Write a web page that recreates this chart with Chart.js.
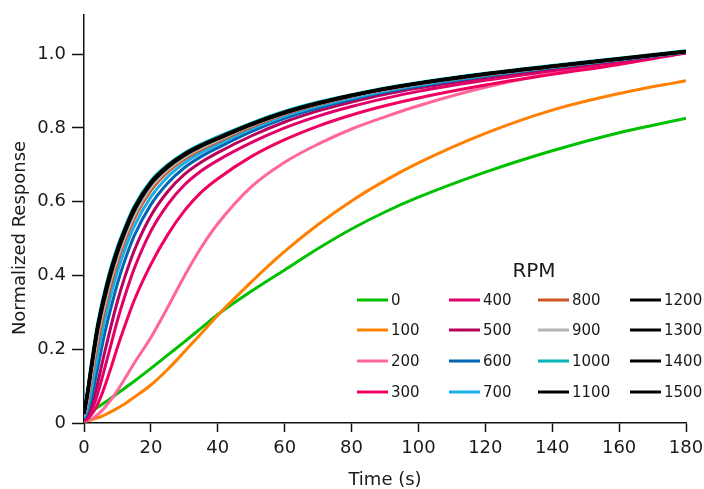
<!DOCTYPE html>
<html>
<head>
<meta charset="utf-8">
<script src="https://cdn.jsdelivr.net/npm/chart.js@4.4.1/dist/chart.umd.min.js"></script>
<style>
html,body{margin:0;padding:0;background:#fff;}
#wrap{position:relative;width:704px;height:489px;}
</style>
</head>
<body>
<div id="wrap"><canvas id="c" width="704" height="489"></canvas></div>
<script>
// Time points (s)
const times = [0,1,2,3,4,5,6,8,10,12,15,20,25,30,35,40,50,60,70,80,90,100,120,140,160,180];
// RPM categories
const rpmLabels = ['0','100','200','300','400','500','600','700','800','900','1000','1100','1200','1300','1400','1500'];
// Normalized response per RPM
const r0    = [0.02,0.024,0.03,0.036,0.042,0.048,0.054,0.067,0.08,0.093,0.113,0.148,0.184,0.22,0.257,0.294,0.357,0.415,0.473,0.526,0.572,0.612,0.68,0.738,0.787,0.826];
const r100  = [0.005,0.006,0.008,0.011,0.014,0.017,0.021,0.03,0.04,0.051,0.07,0.103,0.145,0.193,0.242,0.292,0.382,0.465,0.538,0.602,0.657,0.705,0.785,0.848,0.893,0.928];
const r200  = [0.005,0.007,0.01,0.015,0.022,0.03,0.04,0.062,0.088,0.117,0.162,0.232,0.313,0.398,0.475,0.54,0.64,0.707,0.756,0.797,0.83,0.86,0.91,0.948,0.978,1.003];
const r300  = [0.006,0.011,0.02,0.033,0.05,0.07,0.094,0.148,0.205,0.258,0.332,0.43,0.51,0.575,0.625,0.662,0.722,0.768,0.805,0.835,0.86,0.881,0.916,0.945,0.972,1.003];
const r400  = [0.008,0.016,0.03,0.05,0.077,0.108,0.142,0.21,0.278,0.338,0.418,0.52,0.592,0.645,0.683,0.712,0.76,0.8,0.832,0.858,0.88,0.899,0.929,0.955,0.979,1.004];
const r500  = [0.01,0.022,0.042,0.07,0.105,0.145,0.185,0.26,0.33,0.39,0.467,0.562,0.627,0.674,0.707,0.733,0.778,0.816,0.846,0.87,0.891,0.908,0.936,0.96,0.982,1.004];
const r600  = [0.012,0.03,0.06,0.1,0.145,0.19,0.235,0.31,0.378,0.435,0.507,0.592,0.65,0.692,0.722,0.746,0.79,0.826,0.854,0.877,0.897,0.913,0.94,0.963,0.984,1.005];
const r700  = [0.015,0.04,0.08,0.13,0.18,0.228,0.27,0.345,0.41,0.465,0.533,0.613,0.667,0.705,0.733,0.755,0.797,0.832,0.859,0.881,0.9,0.916,0.942,0.964,0.985,1.005];
const r800  = [0.02,0.056,0.106,0.16,0.211,0.257,0.298,0.372,0.435,0.488,0.553,0.63,0.68,0.715,0.741,0.762,0.803,0.837,0.863,0.885,0.903,0.919,0.944,0.966,0.986,1.006];
const r900  = [0.02,0.062,0.118,0.175,0.228,0.273,0.313,0.386,0.447,0.498,0.562,0.638,0.686,0.72,0.745,0.766,0.806,0.839,0.865,0.886,0.904,0.92,0.945,0.966,0.986,1.006];
const r1000 = [0.03,0.086,0.15,0.211,0.266,0.311,0.351,0.421,0.478,0.526,0.588,0.657,0.7,0.732,0.756,0.776,0.813,0.845,0.87,0.89,0.908,0.923,0.948,0.969,0.989,1.009];
const r1100 = [0.024,0.072,0.132,0.192,0.246,0.291,0.331,0.401,0.461,0.511,0.574,0.647,0.692,0.725,0.75,0.77,0.808,0.84,0.866,0.887,0.905,0.92,0.945,0.966,0.986,1.006];
const r1200 = [0.025,0.076,0.137,0.197,0.252,0.297,0.337,0.407,0.466,0.515,0.578,0.65,0.694,0.727,0.751,0.771,0.809,0.841,0.866,0.887,0.905,0.921,0.946,0.967,0.987,1.007];
const r1300 = [0.026,0.078,0.14,0.2,0.255,0.3,0.34,0.41,0.468,0.517,0.58,0.651,0.695,0.728,0.752,0.772,0.81,0.842,0.867,0.888,0.906,0.921,0.946,0.967,0.987,1.007];
const r1400 = [0.027,0.08,0.142,0.202,0.257,0.302,0.342,0.412,0.47,0.518,0.581,0.652,0.696,0.728,0.752,0.772,0.81,0.842,0.867,0.888,0.906,0.921,0.946,0.967,0.987,1.007];
const r1500 = [0.028,0.082,0.145,0.205,0.26,0.305,0.345,0.415,0.472,0.52,0.583,0.653,0.697,0.729,0.753,0.773,0.811,0.843,0.868,0.889,0.907,0.922,0.947,0.968,0.988,1.008];
const seriesValues = [r0,r100,r200,r300,r400,r500,r600,r700,r800,r900,r1000,r1100,r1200,r1300,r1400,r1500];
const colors = ['#00c000','#ff8000','#ff6699','#f00060','#e0006a','#b8005c','#0066b3','#1aaee8','#cc5522','#b3b3b3','#00b5b5','#000000','#000000','#000000','#000000','#000000'];
const xTicks = [0,20,40,60,80,100,120,140,160,180];
const yTicks = [0,0.2,0.4,0.6,0.8,1.0];

const FONT = '"DejaVu Sans", sans-serif';
const TEXT = '#1a1a1a';

const datasets = seriesValues.map((vals, i) => ({
  label: rpmLabels[i],
  data: times.map((t, j) => ({x: t, y: vals[j]})),
  borderColor: colors[i],
  backgroundColor: colors[i],
  borderWidth: 3,
  pointRadius: 0,
  fill: false,
  cubicInterpolationMode: 'monotone',
  order: -i
}));

const textPlugin = {
  id: 'gridLegend',
  afterDraw(chart) {
    const ctx = chart.ctx;
    ctx.save();
    ctx.fillStyle = TEXT;
    ctx.textBaseline = 'middle';
    // y-axis title
    ctx.save();
    ctx.translate(20, 238);
    ctx.rotate(-Math.PI / 2);
    ctx.textAlign = 'center';
    ctx.font = '18px ' + FONT;
    ctx.fillText('Normalized Response', 0, 0);
    ctx.restore();
    // legend
    ctx.font = '20px ' + FONT;
    ctx.textAlign = 'center';
    ctx.fillText('RPM', 534, 272);
    const colX = [357, 449, 538, 630];
    const rowY = [300, 330, 361, 392];
    ctx.font = '15px ' + FONT;
    ctx.textAlign = 'left';
    chart.data.datasets.forEach((ds, i) => {
      const c = Math.floor(i / 4), r = i % 4;
      const x = colX[c], y = rowY[r];
      ctx.strokeStyle = ds.borderColor;
      ctx.lineWidth = 3;
      ctx.beginPath();
      ctx.moveTo(x, y);
      ctx.lineTo(x + 31, y);
      ctx.stroke();
      ctx.fillStyle = TEXT;
      ctx.fillText(ds.label, x + 34, y + 1);
    });
    ctx.restore();
  }
};

new Chart(document.getElementById('c'), {
  type: 'line',
  data: { datasets },
  plugins: [textPlugin],
  options: {
    responsive: false,
    animation: false,
    events: [],
    layout: { padding: { left: 0, right: 18, top: 15, bottom: 0 } },
    plugins: { legend: { display: false }, tooltip: { enabled: false } },
    scales: {
      x: {
        type: 'linear',
        min: 0, max: 180,
        afterFit(s) { s.height = 66; s.paddingRight = 0; s.paddingLeft = 0; },
        afterBuildTicks(s) { s.ticks = xTicks.map(v => ({value: v})); },
        border: { display: true, color: '#111', width: 1.5 },
        grid: { display: true, drawOnChartArea: false, drawTicks: true, tickLength: 9, tickColor: '#111', tickWidth: 1.5 },
        ticks: { color: TEXT, font: { family: FONT, size: 18 }, padding: 6, maxRotation: 0 },
        title: { display: true, text: 'Time (s)', color: TEXT, font: { family: FONT, size: 18, lineHeight: 1.0 }, padding: { top: 0, bottom: 0 } }
      },
      y: {
        type: 'linear',
        min: 0, max: 1.106,
        afterFit(s) { s.width = 84; s.paddingTop = 0; s.paddingBottom = 0; },
        afterBuildTicks(s) { s.ticks = yTicks.map(v => ({value: v})); },
        border: { display: true, color: '#111', width: 1.5 },
        grid: { display: true, drawOnChartArea: false, drawTicks: true, tickLength: 12, tickColor: '#111', tickWidth: 1.5 },
        ticks: { color: TEXT, font: { family: FONT, size: 18 }, padding: 6,
          callback: v => (v === 0 ? '0' : v.toFixed(1)) },
        title: { display: false }
      }
    }
  }
});
</script>
</body>
</html>
